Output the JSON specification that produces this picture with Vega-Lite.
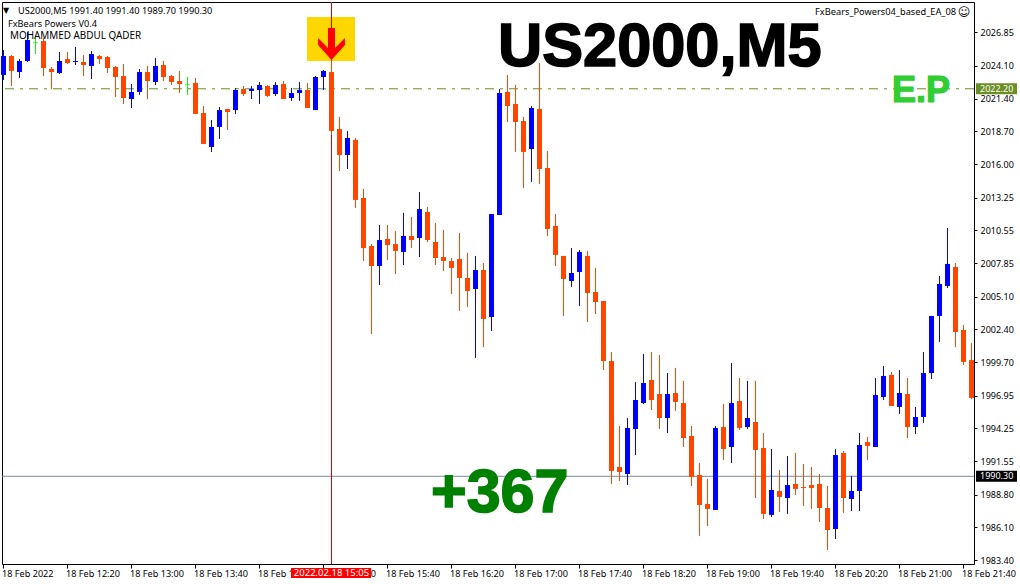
{"$schema":"https://vega.github.io/schema/vega-lite/v6.json","width":972,"height":562,"autosize":{"type":"none"},"padding":{"left":2,"top":2,"right":46,"bottom":20},"background":"white","config":{"view":{"stroke":"#000000","strokeWidth":1},"axis":{"grid":false,"domain":false,"title":null,"tickColor":"#000000","labelColor":"#000000","labelFont":"Noto Sans","labelFontSize":9}},
"datasets":{"candles":[
{"t":"2022-02-18T11:40:00Z","d":"up","o":2023.34,"h":2025.39,"l":2022.92,"c":2024.90},
{"t":"2022-02-18T11:45:00Z","d":"down","o":2024.90,"h":2024.98,"l":2022.43,"c":2023.67},
{"t":"2022-02-18T11:50:00Z","d":"up","o":2023.58,"h":2024.65,"l":2023.09,"c":2024.49},
{"t":"2022-02-18T11:55:00Z","d":"up","o":2024.49,"h":2026.88,"l":2024.41,"c":2026.22},
{"t":"2022-02-18T12:00:00Z","d":"flat","o":2026.05,"h":2026.46,"l":2025.06,"c":2026.00},
{"t":"2022-02-18T12:05:00Z","d":"down","o":2026.13,"h":2026.38,"l":2023.25,"c":2023.91},
{"t":"2022-02-18T12:10:00Z","d":"down","o":2023.83,"h":2024.00,"l":2022.18,"c":2023.58},
{"t":"2022-02-18T12:15:00Z","d":"up","o":2023.50,"h":2025.23,"l":2023.42,"c":2024.49},
{"t":"2022-02-18T12:20:00Z","d":"down","o":2024.65,"h":2025.23,"l":2024.24,"c":2024.32},
{"t":"2022-02-18T12:25:00Z","d":"up","o":2024.41,"h":2025.64,"l":2024.16,"c":2024.49},
{"t":"2022-02-18T12:30:00Z","d":"down","o":2024.41,"h":2024.98,"l":2023.25,"c":2024.16},
{"t":"2022-02-18T12:35:00Z","d":"up","o":2024.08,"h":2025.31,"l":2023.01,"c":2025.06},
{"t":"2022-02-18T12:40:00Z","d":"down","o":2024.90,"h":2024.98,"l":2024.24,"c":2024.65},
{"t":"2022-02-18T12:45:00Z","d":"down","o":2024.82,"h":2024.90,"l":2023.50,"c":2023.91},
{"t":"2022-02-18T12:50:00Z","d":"down","o":2024.00,"h":2024.08,"l":2021.52,"c":2023.17},
{"t":"2022-02-18T12:55:00Z","d":"down","o":2023.25,"h":2024.24,"l":2020.95,"c":2021.44},
{"t":"2022-02-18T13:00:00Z","d":"up","o":2021.36,"h":2022.59,"l":2020.62,"c":2021.94},
{"t":"2022-02-18T13:05:00Z","d":"up","o":2021.94,"h":2023.83,"l":2021.69,"c":2023.58},
{"t":"2022-02-18T13:10:00Z","d":"down","o":2023.58,"h":2024.08,"l":2021.36,"c":2022.84},
{"t":"2022-02-18T13:15:00Z","d":"up","o":2022.76,"h":2024.74,"l":2022.51,"c":2024.08},
{"t":"2022-02-18T13:20:00Z","d":"down","o":2024.16,"h":2024.49,"l":2022.84,"c":2023.17},
{"t":"2022-02-18T13:25:00Z","d":"down","o":2023.25,"h":2023.34,"l":2022.51,"c":2022.76},
{"t":"2022-02-18T13:30:00Z","d":"down","o":2022.84,"h":2023.67,"l":2021.85,"c":2022.59},
{"t":"2022-02-18T13:35:00Z","d":"flat","o":2022.59,"h":2023.17,"l":2021.69,"c":2022.54},
{"t":"2022-02-18T13:40:00Z","d":"down","o":2022.68,"h":2023.09,"l":2020.13,"c":2020.13},
{"t":"2022-02-18T13:45:00Z","d":"down","o":2020.21,"h":2020.78,"l":2017.66,"c":2017.66},
{"t":"2022-02-18T13:50:00Z","d":"up","o":2017.41,"h":2019.63,"l":2017.00,"c":2019.06},
{"t":"2022-02-18T13:55:00Z","d":"up","o":2019.06,"h":2020.70,"l":2018.07,"c":2020.45},
{"t":"2022-02-18T14:00:00Z","d":"down","o":2020.54,"h":2020.54,"l":2018.81,"c":2020.29},
{"t":"2022-02-18T14:05:00Z","d":"up","o":2020.45,"h":2022.27,"l":2020.13,"c":2022.10},
{"t":"2022-02-18T14:10:00Z","d":"down","o":2022.18,"h":2022.43,"l":2021.61,"c":2021.77},
{"t":"2022-02-18T14:15:00Z","d":"up","o":2022.02,"h":2022.43,"l":2021.36,"c":2022.18},
{"t":"2022-02-18T14:20:00Z","d":"up","o":2022.10,"h":2022.76,"l":2020.95,"c":2022.51},
{"t":"2022-02-18T14:25:00Z","d":"down","o":2022.43,"h":2022.51,"l":2021.52,"c":2021.61},
{"t":"2022-02-18T14:30:00Z","d":"up","o":2021.77,"h":2022.76,"l":2021.61,"c":2022.51},
{"t":"2022-02-18T14:35:00Z","d":"down","o":2022.59,"h":2022.84,"l":2021.36,"c":2021.36},
{"t":"2022-02-18T14:40:00Z","d":"up","o":2021.44,"h":2022.27,"l":2021.20,"c":2021.85},
{"t":"2022-02-18T14:45:00Z","d":"up","o":2021.85,"h":2022.76,"l":2021.20,"c":2022.10},
{"t":"2022-02-18T14:50:00Z","d":"down","o":2022.10,"h":2022.68,"l":2020.62,"c":2020.62},
{"t":"2022-02-18T14:55:00Z","d":"up","o":2020.45,"h":2023.25,"l":2020.45,"c":2023.17},
{"t":"2022-02-18T15:00:00Z","d":"up","o":2023.17,"h":2023.75,"l":2022.10,"c":2023.67},
{"t":"2022-02-18T15:05:00Z","d":"down","o":2023.58,"h":2024.57,"l":2018.40,"c":2018.73},
{"t":"2022-02-18T15:10:00Z","d":"down","o":2018.89,"h":2019.88,"l":2015.43,"c":2016.75},
{"t":"2022-02-18T15:15:00Z","d":"up","o":2016.75,"h":2018.73,"l":2015.60,"c":2018.15},
{"t":"2022-02-18T15:20:00Z","d":"down","o":2017.99,"h":2018.15,"l":2012.39,"c":2013.05},
{"t":"2022-02-18T15:25:00Z","d":"down","o":2013.21,"h":2013.95,"l":2008.02,"c":2009.09},
{"t":"2022-02-18T15:30:00Z","d":"down","o":2009.26,"h":2009.42,"l":2002.01,"c":2007.61},
{"t":"2022-02-18T15:35:00Z","d":"up","o":2007.61,"h":2010.99,"l":2006.05,"c":2009.75},
{"t":"2022-02-18T15:40:00Z","d":"down","o":2009.84,"h":2010.99,"l":2008.11,"c":2009.34},
{"t":"2022-02-18T15:45:00Z","d":"down","o":2009.42,"h":2010.49,"l":2006.95,"c":2008.85},
{"t":"2022-02-18T15:50:00Z","d":"up","o":2008.77,"h":2011.98,"l":2007.69,"c":2010.08},
{"t":"2022-02-18T15:55:00Z","d":"down","o":2010.08,"h":2011.65,"l":2009.09,"c":2009.75},
{"t":"2022-02-18T16:00:00Z","d":"up","o":2009.92,"h":2013.70,"l":2008.35,"c":2012.30},
{"t":"2022-02-18T16:05:00Z","d":"down","o":2012.06,"h":2012.47,"l":2009.59,"c":2009.75},
{"t":"2022-02-18T16:10:00Z","d":"down","o":2009.59,"h":2011.15,"l":2007.69,"c":2008.27},
{"t":"2022-02-18T16:15:00Z","d":"down","o":2008.35,"h":2010.58,"l":2007.20,"c":2008.02},
{"t":"2022-02-18T16:20:00Z","d":"down","o":2008.02,"h":2008.27,"l":2005.31,"c":2007.45},
{"t":"2022-02-18T16:25:00Z","d":"down","o":2008.19,"h":2010.33,"l":2003.91,"c":2006.63},
{"t":"2022-02-18T16:30:00Z","d":"down","o":2006.63,"h":2008.68,"l":2004.24,"c":2005.55},
{"t":"2022-02-18T16:35:00Z","d":"up","o":2005.72,"h":2008.44,"l":2000.04,"c":2007.28},
{"t":"2022-02-18T16:40:00Z","d":"down","o":2007.28,"h":2007.86,"l":2000.94,"c":2003.25},
{"t":"2022-02-18T16:45:00Z","d":"up","o":2003.41,"h":2011.89,"l":2002.26,"c":2011.89},
{"t":"2022-02-18T16:50:00Z","d":"up","o":2011.81,"h":2022.18,"l":2011.81,"c":2021.85},
{"t":"2022-02-18T16:55:00Z","d":"down","o":2021.94,"h":2023.34,"l":2019.47,"c":2020.78},
{"t":"2022-02-18T17:00:00Z","d":"down","o":2020.95,"h":2022.51,"l":2017.00,"c":2019.47},
{"t":"2022-02-18T17:05:00Z","d":"down","o":2019.55,"h":2019.88,"l":2014.03,"c":2017.00},
{"t":"2022-02-18T17:10:00Z","d":"up","o":2017.24,"h":2020.78,"l":2014.53,"c":2020.62},
{"t":"2022-02-18T17:15:00Z","d":"down","o":2020.54,"h":2024.32,"l":2014.36,"c":2015.60},
{"t":"2022-02-18T17:20:00Z","d":"down","o":2015.68,"h":2017.08,"l":2010.08,"c":2010.66},
{"t":"2022-02-18T17:25:00Z","d":"down","o":2010.91,"h":2011.89,"l":2007.61,"c":2008.52},
{"t":"2022-02-18T17:30:00Z","d":"down","o":2008.44,"h":2008.44,"l":2003.50,"c":2006.54},
{"t":"2022-02-18T17:35:00Z","d":"up","o":2006.38,"h":2009.09,"l":2005.88,"c":2007.04},
{"t":"2022-02-18T17:40:00Z","d":"up","o":2007.12,"h":2008.93,"l":2004.32,"c":2008.77},
{"t":"2022-02-18T17:45:00Z","d":"down","o":2008.44,"h":2008.85,"l":2003.00,"c":2005.39},
{"t":"2022-02-18T17:50:00Z","d":"down","o":2005.47,"h":2007.45,"l":2003.66,"c":2004.65},
{"t":"2022-02-18T17:55:00Z","d":"down","o":2004.73,"h":2004.73,"l":1999.05,"c":1999.79},
{"t":"2022-02-18T18:00:00Z","d":"down","o":1999.79,"h":2000.53,"l":1989.67,"c":1990.74},
{"t":"2022-02-18T18:05:00Z","d":"down","o":1991.07,"h":1994.44,"l":1989.91,"c":1990.65},
{"t":"2022-02-18T18:10:00Z","d":"up","o":1990.49,"h":1995.10,"l":1989.58,"c":1994.28},
{"t":"2022-02-18T18:15:00Z","d":"up","o":1994.19,"h":1998.06,"l":1992.05,"c":1996.58},
{"t":"2022-02-18T18:20:00Z","d":"up","o":1996.33,"h":2000.37,"l":1996.25,"c":1997.98},
{"t":"2022-02-18T18:25:00Z","d":"down","o":1998.23,"h":2000.53,"l":1995.76,"c":1996.58},
{"t":"2022-02-18T18:30:00Z","d":"down","o":1997.07,"h":2000.29,"l":1994.19,"c":1995.10},
{"t":"2022-02-18T18:35:00Z","d":"up","o":1995.10,"h":1998.80,"l":1993.86,"c":1997.07},
{"t":"2022-02-18T18:40:00Z","d":"down","o":1997.16,"h":1999.22,"l":1995.68,"c":1996.42},
{"t":"2022-02-18T18:45:00Z","d":"down","o":1996.33,"h":1998.15,"l":1992.71,"c":1993.45},
{"t":"2022-02-18T18:50:00Z","d":"down","o":1993.62,"h":1994.44,"l":1989.50,"c":1990.24},
{"t":"2022-02-18T18:55:00Z","d":"down","o":1990.41,"h":1991.40,"l":1985.39,"c":1987.94},
{"t":"2022-02-18T19:00:00Z","d":"down","o":1988.02,"h":1990.08,"l":1986.21,"c":1987.61},
{"t":"2022-02-18T19:05:00Z","d":"up","o":1987.53,"h":1994.44,"l":1987.53,"c":1994.28},
{"t":"2022-02-18T19:10:00Z","d":"down","o":1994.36,"h":1996.25,"l":1991.64,"c":1992.55},
{"t":"2022-02-18T19:15:00Z","d":"up","o":1992.71,"h":1999.63,"l":1991.40,"c":1996.33},
{"t":"2022-02-18T19:20:00Z","d":"down","o":1996.50,"h":1998.39,"l":1994.11,"c":1994.28},
{"t":"2022-02-18T19:25:00Z","d":"up","o":1994.36,"h":1998.15,"l":1994.19,"c":1995.10},
{"t":"2022-02-18T19:30:00Z","d":"down","o":1994.77,"h":1998.15,"l":1988.51,"c":1992.47},
{"t":"2022-02-18T19:35:00Z","d":"down","o":1992.63,"h":1993.86,"l":1986.79,"c":1987.20},
{"t":"2022-02-18T19:40:00Z","d":"up","o":1987.12,"h":1992.55,"l":1986.95,"c":1989.17},
{"t":"2022-02-18T19:45:00Z","d":"down","o":1989.09,"h":1990.82,"l":1987.36,"c":1988.60},
{"t":"2022-02-18T19:50:00Z","d":"up","o":1988.51,"h":1991.97,"l":1987.20,"c":1989.58},
{"t":"2022-02-18T19:55:00Z","d":"down","o":1989.67,"h":1992.22,"l":1988.76,"c":1989.26},
{"t":"2022-02-18T20:00:00Z","d":"down","o":1989.42,"h":1991.31,"l":1987.86,"c":1989.34},
{"t":"2022-02-18T20:05:00Z","d":"down","o":1989.58,"h":1991.07,"l":1987.61,"c":1989.34},
{"t":"2022-02-18T20:10:00Z","d":"down","o":1989.67,"h":1990.49,"l":1986.54,"c":1987.69},
{"t":"2022-02-18T20:15:00Z","d":"down","o":1987.69,"h":1989.50,"l":1984.23,"c":1985.88},
{"t":"2022-02-18T20:20:00Z","d":"up","o":1985.96,"h":1992.55,"l":1985.14,"c":1992.05},
{"t":"2022-02-18T20:25:00Z","d":"down","o":1992.22,"h":1992.38,"l":1987.28,"c":1988.51},
{"t":"2022-02-18T20:30:00Z","d":"up","o":1988.43,"h":1990.33,"l":1987.44,"c":1989.09},
{"t":"2022-02-18T20:35:00Z","d":"up","o":1989.09,"h":1993.86,"l":1987.44,"c":1992.88},
{"t":"2022-02-18T20:40:00Z","d":"down","o":1993.12,"h":1993.54,"l":1991.64,"c":1992.80},
{"t":"2022-02-18T20:45:00Z","d":"up","o":1992.71,"h":1998.39,"l":1992.71,"c":1996.99},
{"t":"2022-02-18T20:50:00Z","d":"up","o":1996.83,"h":1999.38,"l":1996.58,"c":1998.56},
{"t":"2022-02-18T20:55:00Z","d":"down","o":1998.64,"h":1998.89,"l":1996.09,"c":1996.09},
{"t":"2022-02-18T21:00:00Z","d":"up","o":1996.01,"h":1999.05,"l":1995.43,"c":1997.16},
{"t":"2022-02-18T21:05:00Z","d":"down","o":1997.07,"h":1998.39,"l":1993.45,"c":1994.36},
{"t":"2022-02-18T21:10:00Z","d":"up","o":1994.36,"h":1996.01,"l":1993.78,"c":1995.18},
{"t":"2022-02-18T21:15:00Z","d":"up","o":1995.18,"h":2000.53,"l":1994.69,"c":1998.80},
{"t":"2022-02-18T21:20:00Z","d":"up","o":1998.80,"h":2003.50,"l":1998.31,"c":2003.50},
{"t":"2022-02-18T21:25:00Z","d":"up","o":2003.50,"h":2006.79,"l":2001.36,"c":2006.13},
{"t":"2022-02-18T21:30:00Z","d":"up","o":2005.97,"h":2010.74,"l":2005.80,"c":2007.78},
{"t":"2022-02-18T21:35:00Z","d":"down","o":2007.53,"h":2007.86,"l":2000.94,"c":2002.18},
{"t":"2022-02-18T21:40:00Z","d":"down","o":2002.34,"h":2002.76,"l":1999.46,"c":1999.71},
{"t":"2022-02-18T21:45:00Z","d":"down","o":1999.87,"h":2001.27,"l":1996.66,"c":1996.75}
]},
"layer":[
{"data":{"values":[{"a":"2022-02-18T14:49:42Z","b":"2022-02-18T15:19:42Z","p":2028.11,"q":2024.49}]},"mark":{"type":"rect","color":"#ffd700"},
"encoding":{"x":{"field":"a","type":"temporal","scale":{"type":"utc","nice":false,"padding":0,"domain":[1645184344000,1645220794000]},
"axis":{"orient":"bottom","tickSize":4,"labelPadding":8,"labelOffset":-2,"labelAlign":"left","labelBaseline":"alphabetic","labelFontSize":9.15,"labelOverlap":false,"labelBound":false,"labelFlush":false,"tickCount":30,
"values":[1645184400000,1645186800000,1645189200000,1645191600000,1645194000000,1645196400000,1645198800000,1645201200000,1645203600000,1645206000000,1645208400000,1645210800000,1645213200000,1645215600000,1645218000000,1645220400000],
"labelExpr":"time(datum.value) == 1645184400000 ? '18 Feb 2022' : utcFormat(datum.value, '%d %b %H:%M')"}},
"x2":{"field":"b"},
"y":{"field":"p","type":"quantitative","scale":{"domain":[1983.08,2029.345],"nice":false,"zero":false,"padding":0},
"axis":{"orient":"right","tickSize":3,"labelPadding":3,"format":".2f","labelOverlap":false,"labelBound":false,"labelFlush":false,"tickCount":30,"values":[2026.85,2024.10,2021.40,2018.70,2016.00,2013.25,2010.55,2007.85,2005.10,2002.40,1999.70,1996.95,1994.25,1991.55,1988.80,1986.10,1983.40]}},
"y2":{"field":"q"}}},
{"data":{"values":[{"p":2022.2}]},"mark":{"type":"rule","color":"#6b8e23","strokeWidth":1,"strokeDash":[9,6,3,6]},"encoding":{"y":{"field":"p","type":"quantitative","scale":{"domain":[1983.08,2029.345],"nice":false,"zero":false,"padding":0}}}},
{"data":{"values":[{"p":1990.3}]},"mark":{"type":"rule","color":"#778899","strokeWidth":1},"encoding":{"y":{"field":"p","type":"quantitative","scale":{"domain":[1983.08,2029.345],"nice":false,"zero":false,"padding":0}}}},
{"data":{"values":[{"t":"2022-02-18T15:05:00Z"}]},"mark":{"type":"rule","color":"#dd0000","strokeWidth":1},"encoding":{"x":{"field":"t","type":"temporal","scale":{"type":"utc","nice":false,"padding":0,"domain":[1645184344000,1645220794000]}}}},
{"data":{"name":"candles"},"mark":{"type":"rule","strokeWidth":1},"encoding":{"x":{"field":"t","type":"temporal","scale":{"type":"utc","nice":false,"padding":0,"domain":[1645184344000,1645220794000]}},"y":{"field":"h","type":"quantitative","scale":{"domain":[1983.08,2029.345],"nice":false,"zero":false,"padding":0}},"y2":{"field":"l"},"color":{"field":"d","type":"nominal","legend":null,"scale":{"domain":["up","down","flat"],"range":["#0000ff","#ff4500","#00ff00"]}}}},
{"data":{"name":"candles"},"mark":{"type":"bar","size":5},"encoding":{"x":{"field":"t","type":"temporal","scale":{"type":"utc","nice":false,"padding":0,"domain":[1645184344000,1645220794000]}},"y":{"field":"o","type":"quantitative","scale":{"domain":[1983.08,2029.345],"nice":false,"zero":false,"padding":0}},"y2":{"field":"c"},"color":{"field":"d","type":"nominal","legend":null,"scale":{"domain":["up","down","flat"],"range":["#0000ff","#ff4500","#00ff00"]}}}},
{"data":{"values":[{"t":"2022-02-18T15:05:00Z","p":2025.89}]},"mark":{"type":"point","filled":true,"opacity":1,"color":"#ff0000","strokeWidth":0,"size":1024,"shape":"M-0.22,-1L0.22,-1L0.22,0.25L0.84,-0.375L0.84,0.06L0,1L-0.84,0.06L-0.84,-0.375L-0.22,0.25Z"},"encoding":{"x":{"field":"t","type":"temporal","scale":{"type":"utc","nice":false,"padding":0,"domain":[1645184344000,1645220794000]}},"y":{"field":"p","type":"quantitative","scale":{"domain":[1983.08,2029.345],"nice":false,"zero":false,"padding":0}}}},
{"data":{"values":[{"a":"2022-02-18T21:47:49Z","b":"2022-02-18T22:13:26Z","p":2022.65,"q":2021.75}]},"mark":{"type":"rect","color":"#6b8e23"},"encoding":{"x":{"field":"a","type":"temporal","scale":{"type":"utc","nice":false,"padding":0,"domain":[1645184344000,1645220794000]}},"x2":{"field":"b"},"y":{"field":"p","type":"quantitative","scale":{"domain":[1983.08,2029.345],"nice":false,"zero":false,"padding":0}},"y2":{"field":"q"}}},
{"data":{"values":[{"a":"2022-02-18T21:47:49Z","b":"2022-02-18T22:13:26Z","p":1990.75,"q":1989.85}]},"mark":{"type":"rect","color":"#000000"},"encoding":{"x":{"field":"a","type":"temporal","scale":{"type":"utc","nice":false,"padding":0,"domain":[1645184344000,1645220794000]}},"x2":{"field":"b"},"y":{"field":"p","type":"quantitative","scale":{"domain":[1983.08,2029.345],"nice":false,"zero":false,"padding":0}},"y2":{"field":"q"}}},
{"data":{"values":[{"a":"2022-02-18T14:39:42Z","b":"2022-02-18T15:29:42Z","p":1982.75,"q":1981.93}]},"mark":{"type":"rect","color":"#ff0000"},"encoding":{"x":{"field":"a","type":"temporal","scale":{"type":"utc","nice":false,"padding":0,"domain":[1645184344000,1645220794000]}},"x2":{"field":"b"},"y":{"field":"p","type":"quantitative","scale":{"domain":[1983.08,2029.345],"nice":false,"zero":false,"padding":0}},"y2":{"field":"q"}}},
{"data":{"values":[{"t":"2022-02-18T21:50:20Z","p":2022.2,"s":"2022.20"},{"t":"2022-02-18T21:50:20Z","p":1990.3,"s":"1990.30"}]},"mark":{"type":"text","color":"#ffffff","font":"Noto Sans","fontSize":9,"align":"left","baseline":"middle"},"encoding":{"x":{"field":"t","type":"temporal","scale":{"type":"utc","nice":false,"padding":0,"domain":[1645184344000,1645220794000]}},"y":{"field":"p","type":"quantitative","scale":{"domain":[1983.08,2029.345],"nice":false,"zero":false,"padding":0}},"text":{"field":"s"}}},
{"data":{"values":[{"t":"2022-02-18T15:05:00Z","p":1982.3,"s":"2022.02.18 15:05"}]},"mark":{"type":"text","color":"#ffffff","font":"Noto Sans","fontSize":9.5,"align":"center","baseline":"middle"},"encoding":{"x":{"field":"t","type":"temporal","scale":{"type":"utc","nice":false,"padding":0,"domain":[1645184344000,1645220794000]}},"y":{"field":"p","type":"quantitative","scale":{"domain":[1983.08,2029.345],"nice":false,"zero":false,"padding":0}},"text":{"field":"s"}}},
{"data":{"values":[{"t":"2022-02-18T16:49:00Z","p":2024.08,"s":"US2000,M5"}]},"mark":{"type":"text","color":"#000000","stroke":"#000000","strokeWidth":1.6,"font":"Liberation Sans","fontWeight":"bold","fontSize":61.3,"align":"left","baseline":"alphabetic"},"encoding":{"x":{"field":"t","type":"temporal","scale":{"type":"utc","nice":false,"padding":0,"domain":[1645184344000,1645220794000]}},"y":{"field":"p","type":"quantitative","scale":{"domain":[1983.08,2029.345],"nice":false,"zero":false,"padding":0}},"text":{"field":"s"}}},
{"data":{"values":[{"t":"2022-02-18T16:07:12Z","p":1987.36,"s":"+367"}]},"mark":{"type":"text","color":"#008000","stroke":"#008000","strokeWidth":1.6,"font":"Liberation Sans","fontWeight":"bold","fontSize":61,"align":"left","baseline":"alphabetic"},"encoding":{"x":{"field":"t","type":"temporal","scale":{"type":"utc","nice":false,"padding":0,"domain":[1645184344000,1645220794000]}},"y":{"field":"p","type":"quantitative","scale":{"domain":[1983.08,2029.345],"nice":false,"zero":false,"padding":0}},"text":{"field":"s"}}},
{"data":{"values":[{"t":"2022-02-18T20:55:20Z","p":2021.11,"s":"E.P"}]},"mark":{"type":"text","color":"#32cd32","stroke":"#32cd32","strokeWidth":1.2,"font":"Liberation Sans","fontWeight":"bold","fontSize":36,"align":"left","baseline":"alphabetic"},"encoding":{"x":{"field":"t","type":"temporal","scale":{"type":"utc","nice":false,"padding":0,"domain":[1645184344000,1645220794000]}},"y":{"field":"p","type":"quantitative","scale":{"domain":[1983.08,2029.345],"nice":false,"zero":false,"padding":0}},"text":{"field":"s"}}},
{"data":{"values":[{"t":"2022-02-18T11:49:04Z","p":2028.36,"s":"US2000,M5  1991.40 1991.40 1989.70 1990.30"},{"t":"2022-02-18T11:42:48Z","p":2027.29,"s":"FxBears Powers V0.4"}]},"mark":{"type":"text","color":"#000000","font":"Noto Sans","fontSize":9.2,"align":"left","baseline":"alphabetic"},"encoding":{"x":{"field":"t","type":"temporal","scale":{"type":"utc","nice":false,"padding":0,"domain":[1645184344000,1645220794000]}},"y":{"field":"p","type":"quantitative","scale":{"domain":[1983.08,2029.345],"nice":false,"zero":false,"padding":0}},"text":{"field":"s"}}},
{"data":{"values":[{"t":"2022-02-18T11:44:04Z","p":2026.30,"s":"MOHAMMED ABDUL QADER"}]},"mark":{"type":"text","color":"#000000","font":"Noto Sans","fontSize":9.9,"align":"left","baseline":"alphabetic"},"encoding":{"x":{"field":"t","type":"temporal","scale":{"type":"utc","nice":false,"padding":0,"domain":[1645184344000,1645220794000]}},"y":{"field":"p","type":"quantitative","scale":{"domain":[1983.08,2029.345],"nice":false,"zero":false,"padding":0}},"text":{"field":"s"}}},
{"data":{"values":[{"t":"2022-02-18T21:35:20Z","p":2028.27,"s":"FxBears_Powers04_based_EA_08"}]},"mark":{"type":"text","color":"#000000","font":"Noto Sans","fontSize":9.25,"align":"right","baseline":"alphabetic"},"encoding":{"x":{"field":"t","type":"temporal","scale":{"type":"utc","nice":false,"padding":0,"domain":[1645184344000,1645220794000]}},"y":{"field":"p","type":"quantitative","scale":{"domain":[1983.08,2029.345],"nice":false,"zero":false,"padding":0}},"text":{"field":"s"}}},
{"data":{"values":[{"t":"2022-02-18T21:40:20Z","p":2028.2,"s":"☺"}]},"mark":{"type":"text","color":"#000000","font":"DejaVu Sans","fontSize":12,"align":"center","baseline":"alphabetic"},"encoding":{"x":{"field":"t","type":"temporal","scale":{"type":"utc","nice":false,"padding":0,"domain":[1645184344000,1645220794000]}},"y":{"field":"p","type":"quantitative","scale":{"domain":[1983.08,2029.345],"nice":false,"zero":false,"padding":0}},"text":{"field":"s"}}},
{"data":{"values":[{"t":"2022-02-18T11:41:36Z","p":2028.45,"s":"▼"}]},"mark":{"type":"text","color":"#000000","font":"DejaVu Sans","fontSize":8,"align":"center","baseline":"alphabetic"},"encoding":{"x":{"field":"t","type":"temporal","scale":{"type":"utc","nice":false,"padding":0,"domain":[1645184344000,1645220794000]}},"y":{"field":"p","type":"quantitative","scale":{"domain":[1983.08,2029.345],"nice":false,"zero":false,"padding":0}},"text":{"field":"s"}}}
]}
